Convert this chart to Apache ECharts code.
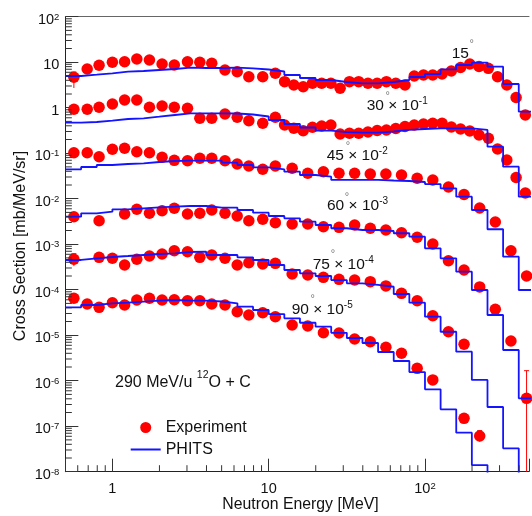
<!DOCTYPE html>
<html>
<head>
<meta charset="utf-8">
<script src="https://cdn.jsdelivr.net/npm/echarts@6/dist/echarts.min.js"></script>
<style>
html,body{margin:0;padding:0;background:#ffffff;}
#chart{width:532px;height:516px;}
</style>
</head>
<body>
<div id="chart"></div>
<script>
// ---------------- DATA ----------------
// Experimental energy bin centres [MeV]
const E_LOW = [0.567, 0.690, 0.822, 1.00, 1.197, 1.433, 1.726, 2.079, 2.489, 3.024, 3.626, 4.323, 5.253, 6.289, 7.464, 9.160, 11.03];
const E_FINE = [12.64, 14.48, 16.62, 19.05, 21.83, 25.00, 28.65, 32.87, 37.67, 43.16, 49.45, 56.67, 65.04, 74.50, 85.37, 97.8, 112.1, 128.6, 147.4, 168.9, 193.5, 221.7, 254.4, 291.4, 334.0, 382.8, 438.7];
const E_COARSE = [14.13, 17.78, 22.39, 28.18, 35.48, 44.67, 56.23, 70.79, 89.13, 112.2, 141.3, 177.8, 223.9, 281.8, 354.8, 446.7];

// Experiment (already multiplied by the plotted scale factor)
const EXP_15 = [4.66, 7.09, 8.55, 9.95, 10.26, 11.76, 11.18, 9.13, 8.68, 10.26, 9.95, 9.46, 6.74, 6.18, 4.80, 4.80, 5.70,
  3.73, 3.15, 2.89, 3.44, 3.44, 3.44, 2.67, 3.73, 3.73, 3.44, 3.44, 3.73, 3.44, 3.15, 4.97, 5.23, 5.23, 5.50, 6.41, 7.65, 9.13, 8.05, 7.34, 4.80, 3.15, 1.68, 0.691];
const EXP_30 = [0.922, 0.922, 1.02, 1.206, 1.476, 1.476, 1.02, 1.09, 1.02, 0.970, 0.585, 0.585, 0.727, 0.615, 0.518, 0.454, 0.615,
  0.417, 0.353, 0.312, 0.371, 0.396, 0.417, 0.264, 0.274, 0.274, 0.292, 0.315, 0.324, 0.349, 0.386, 0.417, 0.438, 0.454, 0.454, 0.376, 0.340, 0.308, 0.251, 0.213, 0.124, 0.0709, 0.0292, 0.01334];
const EXP_45 = [0.1026, 0.1026, 0.0838, 0.1219, 0.1281, 0.1079, 0.1026, 0.0813, 0.0697, 0.0684, 0.0773, 0.0773, 0.0684, 0.0579, 0.0523, 0.0443, 0.0523,
  0.0466, 0.0362, 0.0392, 0.0362, 0.0362, 0.0349, 0.0349, 0.0332, 0.0281, 0.0258, 0.0181, 0.01237, 0.00625, 0.00308, 0.00072, 0.0002];
const EXP_60 = [0.00402, null, 0.00328, null, 0.00461, 0.00585, 0.00478, 0.00545, 0.00615, 0.00461, 0.00478, 0.00564, 0.00478, 0.00417, 0.00328, 0.00353, 0.00297,
  0.00278, 0.00278, 0.00242, 0.00235, 0.00264, 0.00224, 0.00205, 0.00179, 0.00142, 0.00101, 0.000434, 0.000271, 0.000115, 3.71e-5, 7.46e-6, 4.10e-7];
const EXP_75 = [4.66e-4, null, 5.15e-4, 4.90e-4, 3.49e-4, 4.66e-4, 5.50e-4, 6.09e-4, 7.16e-4, 6.84e-4, 5.15e-4, 5.79e-4, 4.90e-4, 3.49e-4, 3.92e-4, 3.67e-4, 3.80e-4,
  2.21e-4, 2.10e-4, 1.87e-4, 1.69e-4, 1.63e-4, 1.50e-4, 1.21e-4, 8.33e-5, 5.73e-5, 2.67e-5, 1.19e-5, 6.34e-6, null, null, null, null];
const EXP_90 = [6.47e-5, 4.85e-5, 4.10e-5, 5.18e-5, 4.61e-5, 5.94e-5, 6.47e-5, 5.94e-5, 6.03e-5, 5.73e-5, 5.73e-5, 4.85e-5, 4.61e-5, 3.28e-5, 2.78e-5, 3.12e-5, 2.55e-5,
  1.68e-5, 1.59e-5, 1.13e-5, 1.12e-5, 8.25e-6, 7.20e-6, 5.42e-6, 4.00e-6, 1.87e-6, 1.04e-6, null, 1.49e-7, 6.09e-8, null, null, null];

// Error bars on experimental points: energy, low, high
const ERR_X  = [0.567, 0.567, 446.7, 223.9];
const ERR_LO = [2.71, 3.3e-4, 1e-9, 4.6e-8];
const ERR_HI = [6.09, 6.2e-4, 1.66e-6, 8.0e-8];

// PHITS histogram: bin edges [MeV] and bin contents
const PHITS_EDGES = [0.5012, 0.631, 0.7943, 1, 1.259, 1.585, 1.995, 2.512, 3.162, 3.981, 5.012, 6.31, 7.943, 10, 12.59, 15.85, 19.95, 25.12, 31.62, 39.81, 50.12, 63.1, 79.43, 100, 125.9, 158.5, 199.5, 251.2, 316.2, 398.1, 501.2];
const PHITS_15 = [4.97, 5.31, 5.70, 6.18, 6.41, 6.74, 7.09, 7.57, 7.46, 7.46, 7.57, 7.34, 6.91, 6.25, 5.23, 4.50, 4.06, 3.67, 3.44, 3.44, 3.67, 4.06, 4.73, 5.50, 6.98, 8.68, 9.75, 7.96, 3.32, 0.817];
const PHITS_30 = [0.468, 0.485, 0.518, 0.565, 0.585, 0.634, 0.691, 0.753, 0.753, 0.753, 0.746, 0.709, 0.641, 0.537, 0.438, 0.367, 0.315, 0.292, 0.282, 0.282, 0.300, 0.324, 0.340, 0.353, 0.353, 0.353, 0.324, 0.139, 0.0505, 0.01107];
const PHITS_45 = [0.0443, 0.0497, 0.0550, 0.0579, 0.0600, 0.0641, 0.0674, 0.0684, 0.0684, 0.0684, 0.0618, 0.0550, 0.0490, 0.0443, 0.0392, 0.0332, 0.0304, 0.0258, 0.0258, 0.0258, 0.0251, 0.0245, 0.0233, 0.0210, 0.01693, 0.01107, 0.00564, 0.00213, 0.000531, 9.85e-5];
const PHITS_60 = [0.00402, 0.00478, 0.00518, 0.00585, 0.00615, 0.00647, 0.00667, 0.00691, 0.00691, 0.00634, 0.00634, 0.00564, 0.00492, 0.00417, 0.00371, 0.00312, 0.00264, 0.00224, 0.00205, 0.00205, 0.00195, 0.00174, 0.00146, 0.000813, 0.000490, 0.000249, 9.85e-5, 2.78e-5, 4.73e-6, 4.10e-7];
const PHITS_75 = [4.50e-4, 4.90e-4, 5.23e-4, 5.50e-4, 5.79e-4, 6.09e-4, 6.31e-4, 6.74e-4, 6.84e-4, 5.79e-4, 5.79e-4, 5.15e-4, 4.50e-4, 3.49e-4, 2.71e-4, 2.29e-4, 2.00e-4, 1.63e-4, 1.38e-4, 1.27e-4, 1.16e-4, 8.04e-5, 5.18e-5, 2.55e-5, 1.19e-5, 4.34e-6, 1.04e-6, 2.64e-7, 3.27e-8, 1e-10];
const PHITS_90 = [4.10e-5, 4.61e-5, 5.02e-5, 5.18e-5, 5.45e-5, 5.73e-5, 5.94e-5, 5.73e-5, 5.73e-5, 5.50e-5, 5.02e-5, 4.23e-5, 3.58e-5, 2.92e-5, 2.35e-5, 1.88e-5, 1.54e-5, 1.13e-5, 8.68e-6, 6.74e-6, 4.27e-6, 2.71e-6, 1.55e-6, 6.47e-7, 2.35e-7, 7.20e-8, 1.40e-8, 1e-10];

// Axis ticks and labels
const X_MIN = 0.5, X_MAX = 463, Y_MIN = 1e-8, Y_MAX = 100;
const X_TICK_VALUES = [1, 10, 100];
const X_TICK_TEXT = ['{b|1}', '{b|10}', '{b|10}{s|2}'];
const Y_TICK_VALUES = [1e-8, 1e-7, 1e-6, 1e-5, 1e-4, 1e-3, 1e-2, 1e-1, 1, 10, 100];
const Y_TICK_TEXT = ['{b|10}{s|-8}', '{b|10}{s|-7}', '{b|10}{s|-6}', '{b|10}{s|-5}', '{b|10}{s|-4}', '{b|10}{s|-3}', '{b|10}{s|-2}', '{b|10}{s|-1}', '{b|1}', '{b|10}', '{b|10}{s|2}'];
const MINOR_MULT = [2, 3, 4, 5, 6, 7, 8, 9];
const X_DECADES = [0.1, 1, 10, 100];
const Y_DECADES = [1e-8, 1e-7, 1e-6, 1e-5, 1e-4, 1e-3, 1e-2, 1e-1, 1, 10];

// Texts
const X_TITLE = 'Neutron Energy [MeV]';
const Y_TITLE = 'Cross Section [mb/MeV/sr]';
const ANGLE_TEXT = ['15', '30', '45', '60', '75', '90'];
const SCALE_EXP = ['', '-1', '-2', '-3', '-4', '-5'];
const REACTION_TEXT = ['290 MeV/u ', '12', 'O + C'];
const LEGEND_NAMES = ['Experiment', 'PHITS'];

// ---------------- LAYOUT / STYLE ----------------
const FONT = '"Liberation Sans", Arial, Helvetica, sans-serif';
const INK = '#111111';
const RED = '#ff0000';
const BLUE = '#1414ff';
// [text left x, text centre y, degree x, degree y]
const ANGLE_POS = [[451.7, 55, 471.7, 41.7], [366.7, 106, 387.7, 93], [326.7, 156.7, 348, 143], [327, 206.7, 347, 194], [312.7, 265, 333, 251.7], [291.7, 310, 312.7, 296.7]];

// ---------------- BUILD ----------------
const chart = echarts.init(document.getElementById('chart'), null, {renderer: 'canvas', width: 532, height: 516});

const angleSets = [
  {E: E_LOW.concat(E_FINE), V: EXP_15, P: PHITS_15},
  {E: E_LOW.concat(E_FINE), V: EXP_30, P: PHITS_30},
  {E: E_LOW.concat(E_COARSE), V: EXP_45, P: PHITS_45},
  {E: E_LOW.concat(E_COARSE), V: EXP_60, P: PHITS_60},
  {E: E_LOW.concat(E_COARSE), V: EXP_75, P: PHITS_75},
  {E: E_LOW.concat(E_COARSE), V: EXP_90, P: PHITS_90}
];

function points(E, V) {
  const out = [];
  for (let i = 0; i < V.length; i++) if (V[i] != null) out.push([E[i], V[i]]);
  return out;
}
function histo(vals) {
  const d = vals.map((v, i) => [PHITS_EDGES[i], v]);
  d.push([PHITS_EDGES[vals.length], vals[vals.length - 1]]);
  return d;
}

const series = [];
angleSets.forEach(s => {
  series.push({
    type: 'scatter', name: 'Experiment', data: points(s.E, s.V),
    symbol: 'circle', symbolSize: 11.5, z: 3,
    itemStyle: {color: RED, opacity: 1},
    emphasis: {disabled: true}
  });
});
angleSets.forEach(s => {
  series.push({
    type: 'line', name: 'PHITS', data: histo(s.P), step: 'end',
    symbol: 'none', showSymbol: false, z: 4, clip: true,
    lineStyle: {color: BLUE, width: 1.8},
    itemStyle: {color: BLUE},
    emphasis: {disabled: true}
  });
});

// error bars
series.push({
  type: 'custom', name: 'errors', silent: true, clip: true, z: 3,
  data: ERR_X.map((x, i) => [x, ERR_LO[i], ERR_HI[i]]),
  encode: {x: 0, y: [1, 2]},
  renderItem: function (params, api) {
    const lo = api.coord([api.value(0), api.value(1)]);
    const hi = api.coord([api.value(0), api.value(2)]);
    return {type: 'group', children: [
      {type: 'line', shape: {x1: lo[0], y1: lo[1], x2: hi[0], y2: hi[1]}, style: {stroke: RED, lineWidth: 1}},
      {type: 'line', shape: {x1: hi[0] - 2.5, y1: hi[1], x2: hi[0] + 2.5, y2: hi[1]}, style: {stroke: RED, lineWidth: 1}}
    ]};
  }
});

// minor ticks (log style)
const xMinor = [];
X_DECADES.forEach(d => MINOR_MULT.forEach(m => { const v = +(m * d).toPrecision(6); if (v > X_MIN && v < X_MAX) xMinor.push([v, Y_MIN]); }));
const yMinor = [];
Y_DECADES.forEach(d => MINOR_MULT.forEach(m => { const v = +(m * d).toPrecision(6); if (v > Y_MIN && v < Y_MAX) yMinor.push([X_MIN, v]); }));
series.push({
  type: 'custom', name: 'xminor', silent: true, z: 6, data: xMinor,
  renderItem: function (params, api) {
    const p = api.coord([api.value(0), api.value(1)]);
    return {type: 'line', shape: {x1: p[0], y1: p[1], x2: p[0], y2: p[1] - 6.5}, style: {stroke: '#333', lineWidth: 1}};
  }
});
series.push({
  type: 'custom', name: 'yminor', silent: true, z: 6, data: yMinor,
  renderItem: function (params, api) {
    const p = api.coord([api.value(0), api.value(1)]);
    return {type: 'line', shape: {x1: p[0], y1: p[1], x2: p[0] + 6.5, y2: p[1]}, style: {stroke: '#333', lineWidth: 1}};
  }
});

function fmtX(v) {
  const e = Math.log10(v);
  const i = X_TICK_VALUES.findIndex(t => Math.abs(Math.log10(t) - e) < 1e-4);
  return i >= 0 ? X_TICK_TEXT[i] : '';
}
function fmtY(v) {
  const e = Math.log10(v);
  const i = Y_TICK_VALUES.findIndex(t => Math.abs(Math.log10(t) - e) < 1e-4);
  return i >= 0 ? Y_TICK_TEXT[i] : '';
}

const tickRich = {
  b: {fontSize: 14.5, fontFamily: FONT, color: INK, verticalAlign: 'bottom'},
  s: {fontSize: 9.5, fontFamily: FONT, color: INK, verticalAlign: 'top'}
};

// annotations
const graphics = [];
const annRich = {
  n: {fontSize: 15.5, fontFamily: FONT, fill: INK, verticalAlign: 'bottom'},
  s: {fontSize: 10, fontFamily: FONT, fill: INK, verticalAlign: 'top', padding: [0, 0, 7.5, 0]}
};
ANGLE_TEXT.forEach((t, i) => {
  const pos = ANGLE_POS[i];
  const txt = SCALE_EXP[i] ? '{n|' + t + ' \u00d7 10}{s|' + SCALE_EXP[i] + '}' : '{n|' + t + '}';
  graphics.push({type: 'text', x: pos[0], y: pos[1] - 1.25, z: 50,
    style: {text: txt, rich: annRich, fontSize: 15.5, fontFamily: FONT, fill: INK, align: 'left', verticalAlign: 'middle'}});
  graphics.push({type: 'text', x: pos[2], y: pos[3] + 2.6, z: 50,
    style: {text: '\u00b0', fontSize: 11, fontFamily: FONT, fill: '#777777', align: 'center', verticalAlign: 'middle'}});
});
graphics.push({type: 'text', x: 115, y: 380.3, z: 50,
  style: {text: '{n|' + REACTION_TEXT[0] + '}{s|' + REACTION_TEXT[1] + '}{n|' + REACTION_TEXT[2] + '}',
    rich: {n: {fontSize: 16, fontFamily: FONT, fill: INK, verticalAlign: 'bottom'}, s: {fontSize: 10.5, fontFamily: FONT, fill: INK, verticalAlign: 'top', padding: [0, 0, 9.5, 0]}},
    fontSize: 16, fontFamily: FONT, fill: INK, align: 'left', verticalAlign: 'middle'}});
graphics.push({type: 'text', x: 300.5, y: 505, z: 50,
  style: {text: X_TITLE, fontSize: 15.8, fontFamily: FONT, fill: INK, align: 'center', verticalAlign: 'middle'}});
graphics.push({type: 'text', x: 21, y: 246, rotation: Math.PI / 2, z: 50,
  style: {text: Y_TITLE, fontSize: 16, fontFamily: FONT, fill: INK, align: 'center', verticalAlign: 'middle'}});

const option = {
  animation: false,
  backgroundColor: '#ffffff',
  textStyle: {fontFamily: FONT},
  grid: {left: 65.35, right: 0, top: 16.7, bottom: 44.3, containLabel: false},
  xAxis: [{
    type: 'log', logBase: 10, min: X_MIN, max: X_MAX, position: 'bottom',
    axisLine: {show: true, onZero: false, lineStyle: {color: '#222', width: 1}},
    axisTick: {show: true, inside: true, length: 13, lineStyle: {color: '#333', width: 1}},
    minorTick: {show: false}, splitLine: {show: false},
    axisLabel: {margin: 10, formatter: fmtX, rich: tickRich, color: INK, fontSize: 14.5, fontFamily: FONT}
  }, {
    type: 'log', logBase: 10, min: X_MIN, max: X_MAX, position: 'top',
    axisLine: {show: true, onZero: false, lineStyle: {color: '#666', width: 1}},
    axisTick: {show: false}, axisLabel: {show: false}, splitLine: {show: false}
  }],
  yAxis: {
    type: 'log', logBase: 10, min: Y_MIN, max: Y_MAX, interval: 1, splitNumber: 10,
    axisLine: {show: true, onZero: false, lineStyle: {color: '#222', width: 1}},
    axisTick: {show: true, inside: true, length: 13, lineStyle: {color: '#333', width: 1}},
    minorTick: {show: false}, splitLine: {show: false},
    axisLabel: {margin: 6, formatter: fmtY, rich: tickRich, color: INK, fontSize: 14.5, fontFamily: FONT, padding: [6, 0, 0, 0]}
  },
  legend: {
    data: [
      {name: LEGEND_NAMES[0], icon: 'circle'},
      {name: LEGEND_NAMES[1], icon: 'path://M0,0L30,0L30,0Z M0,4.6L30,4.6L30,6.4L0,6.4Z M0,11L30,11L30,11Z'}
    ],
    orient: 'vertical', left: 130.7, top: 419.5, padding: 0,
    itemWidth: 30, itemHeight: 11, itemGap: 6, selectedMode: false,
    textStyle: {fontSize: 16, fontFamily: FONT, color: INK}
  },
  graphic: graphics,
  series: series
};
chart.setOption(option);
</script>
</body>
</html>
